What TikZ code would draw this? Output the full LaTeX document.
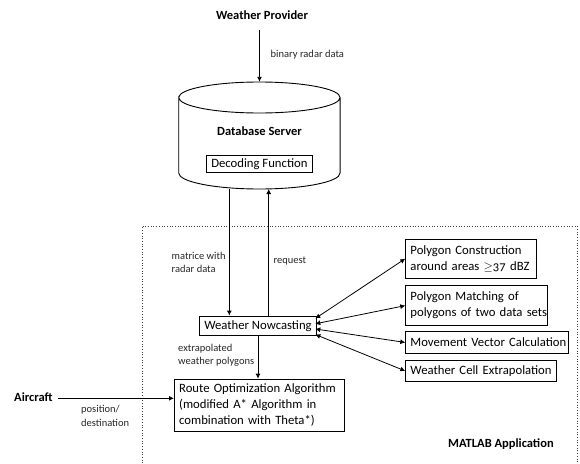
\documentclass[tikz,border=0pt]{standalone}
\usepackage{fontspec}
\setmainfont{Carlito}
\newfontfamily\oldnum[Numbers=OldStyle]{Carlito}
\usetikzlibrary{arrows.meta,positioning}
\tikzset{
  conn/.style={draw=black,line width=0.9pt,-{Latex[length=5pt,width=5pt]}},
  biconn/.style={draw=black,line width=0.8pt,{Latex[length=5pt,width=5pt]}-{Latex[length=5pt,width=5pt]}},
  boxn/.style={draw=black,line width=0.9pt,anchor=north west,align=left,inner ysep=0pt,inner xsep=4.7pt,font=\fontsize{12.7}{16}\selectfont},
  head/.style={font=\bfseries\fontsize{12.5}{15}\selectfont,inner sep=0pt},
  lab/.style={font=\fontsize{10.5}{13.5}\selectfont,inner sep=0pt,align=left,anchor=west,text=black!85},
}
\begin{document}
\begin{tikzpicture}[x=1pt,y=-1pt]
\useasboundingbox (0,0) rectangle (580,463);
% dotted frame
\draw[dotted,line width=0.7pt,black!75] (142,463) -- (142,226) -- (577,226) -- (577,463);
% database cylinder
\node[minimum width=161.4pt,minimum height=107pt,inner sep=0pt] (db) at (259.4,135.5) {};
\draw[line width=0.9pt] (178.7,97.5) arc[start angle=180,end angle=0,x radius=80.7,y radius=-15.5]
  arc[start angle=0,end angle=-180,x radius=80.7,y radius=-15.5] -- (178.7,173)
  arc[start angle=180,end angle=360,x radius=80.7,y radius=-16] -- (340.1,97.5);
\node[head] (wp) at (262,15) {Weather Provider};
\coordinate (wpa) at (259.5,30);
\node[head] (dbl) at (259.5,131) {Database Server};
\node[boxn,minimum width=106.7pt,minimum height=17.7pt,anchor=center] (dec) at (259.4,163.9) {\mbox{Decoding Function}};
\node[lab] (brd) at (270.5,55) {binary radar data};
% lower boxes
\node[boxn,minimum width=114.6pt,minimum height=19.7pt,anchor=center] (wn) at (258,325.9) {\mbox{Weather Nowcasting}};
\node[boxn,text width=160.3pt,minimum height=52.3pt] (ro) at (174,378.7) {\mbox{Route Optimization Algorithm}\\\mbox{(modified A* Algorithm in}\\\mbox{combination with Theta*)}};
\node[boxn,text width=121.3pt,minimum height=39pt] (p1) at (405.3,238.7) {\mbox{Polygon Construction}\\\mbox{around areas $\geq${\oldnum 37} dBZ}};
\node[boxn,text width=132.6pt,minimum height=39.7pt] (p2) at (405.3,285.3) {\mbox{Polygon Matching of}\\\mbox{polygons of two data sets}};
\node[boxn,text width=153.6pt,minimum height=21.4pt] (p3) at (405.3,331.3) {\mbox{Movement Vector Calculation}};
\node[boxn,text width=141pt,minimum height=21.6pt] (p4) at (405.3,359.7) {\mbox{Weather Cell Extrapolation}};
\node[head,anchor=west] (ma) at (448,444) {MATLAB Application};
\node[head,anchor=west] (ac) at (14,397) {Aircraft};
\coordinate (aca) at (58,398.3);
\node[lab] (mr) at (171.5,262.5) {matrice with\\radar data};
\node[lab] (rq) at (273.5,261.5) {request};
\node[lab] (ew) at (178,355.5) {extrapolated\\weather polygons};
\node[lab] (pd) at (81,416) {position/\\destination};
% connectors
\draw[conn] (wpa) -- (wpa |- db.north);
\coordinate (dl) at (229.3,189);
\coordinate (dr) at (268.7,189);
\draw[conn] (dl) -- (dl |- wn.north);
\draw[conn] (dr |- wn.north) -- (dr);
\coordinate (wb) at (258,378.7);
\draw[conn] (wn.south) -- (wb);
\draw[conn] (aca) -- (aca -| ro.west);
\coordinate (w1) at (315.3,318.5);
\coordinate (w2) at (315.3,323.8);
\coordinate (w3) at (315.3,329);
\coordinate (w4) at (315.3,334.5);
\draw[biconn] (w1) -- (p1.west);
\draw[biconn] (w2) -- (p2.west);
\draw[biconn] (w3) -- (p3.west);
\draw[biconn] (w4) -- (p4.west);
\end{tikzpicture}
\end{document}
